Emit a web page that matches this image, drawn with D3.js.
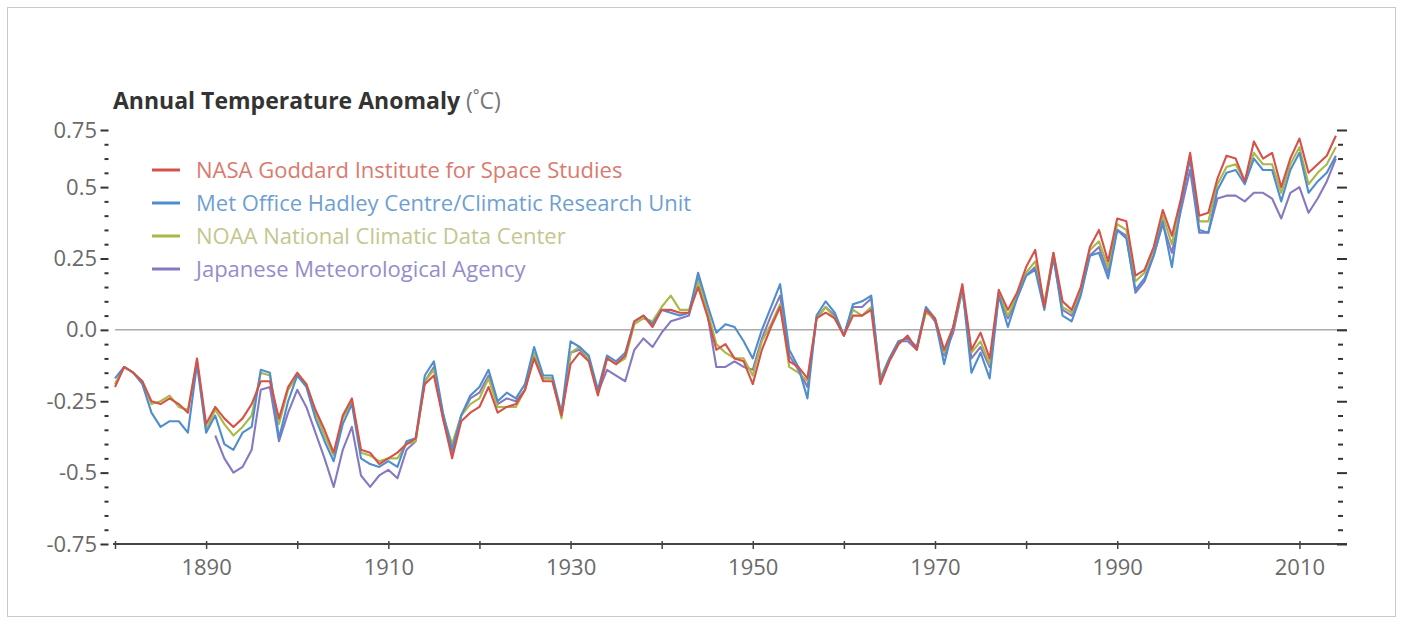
<!DOCTYPE html>
<html>
<head>
    <meta charset="utf-8">
    <title>Annual Temperature Anomaly</title>
    <style type="text/css">
		body{ margin:0; background:#fff; }
		.tick text{ font-family:"Open Sans", sans-serif; font-size:22px; fill:#6a6a6a; }
		.xaxis .tick line{ stroke:#444; stroke-width:1.5; }
		.yaxis .tick line{ stroke:#333; stroke-width:2; }
		.line{ fill:none; stroke-width:2.1; stroke-linejoin:round; }
    </style>
</head>
<body>
    <script src="https://d3js.org/d3.v7.min.js"></script>
	<script>

		// years 1880 - 2014
		var startYear = 1880;

		var nasa = [
			-0.20,-0.13,-0.15,-0.18,-0.25,-0.26,-0.24,-0.26,-0.29,-0.10,
			-0.33,-0.27,-0.31,-0.34,-0.31,-0.26,-0.18,-0.18,-0.31,-0.20,
			-0.15,-0.19,-0.28,-0.35,-0.43,-0.30,-0.24,-0.42,-0.43,-0.47,
			-0.45,-0.43,-0.40,-0.38,-0.19,-0.16,-0.31,-0.45,-0.32,-0.29,
			-0.27,-0.20,-0.29,-0.27,-0.26,-0.21,-0.10,-0.18,-0.18,-0.30,
			-0.12,-0.08,-0.11,-0.23,-0.10,-0.12,-0.09,0.03,0.05,0.01,
			0.07,0.07,0.06,0.06,0.15,0.05,-0.07,-0.05,-0.10,-0.11,
			-0.19,-0.07,0.01,0.08,-0.11,-0.13,-0.17,0.04,0.06,0.04,
			-0.02,0.05,0.05,0.07,-0.19,-0.11,-0.05,-0.02,-0.07,0.07,
			0.04,-0.07,0.01,0.16,-0.07,-0.01,-0.10,0.14,0.07,0.13,
			0.22,0.28,0.08,0.27,0.10,0.07,0.15,0.29,0.35,0.24,
			0.39,0.38,0.19,0.21,0.29,0.42,0.33,0.46,0.62,0.40,
			0.41,0.53,0.61,0.60,0.52,0.66,0.60,0.62,0.50,0.60,
			0.67,0.55,0.58,0.61,0.68];

		var metOffice = [
			-0.17,-0.13,-0.15,-0.19,-0.29,-0.34,-0.32,-0.32,-0.36,-0.12,
			-0.36,-0.30,-0.40,-0.42,-0.36,-0.34,-0.14,-0.15,-0.38,-0.25,
			-0.16,-0.20,-0.31,-0.39,-0.46,-0.33,-0.26,-0.45,-0.47,-0.48,
			-0.46,-0.48,-0.39,-0.38,-0.16,-0.11,-0.29,-0.42,-0.30,-0.23,
			-0.20,-0.14,-0.25,-0.22,-0.24,-0.19,-0.06,-0.16,-0.16,-0.29,
			-0.04,-0.06,-0.09,-0.21,-0.09,-0.11,-0.08,0.03,0.05,0.02,
			0.07,0.06,0.05,0.06,0.20,0.09,-0.01,0.02,0.01,-0.04,
			-0.10,0.00,0.08,0.16,-0.07,-0.13,-0.24,0.05,0.10,0.06,
			-0.02,0.09,0.10,0.12,-0.18,-0.10,-0.04,-0.03,-0.06,0.08,
			0.04,-0.12,0.01,0.15,-0.15,-0.08,-0.17,0.12,0.01,0.11,
			0.19,0.21,0.07,0.26,0.05,0.03,0.12,0.26,0.27,0.18,
			0.35,0.32,0.14,0.18,0.26,0.38,0.22,0.44,0.60,0.35,
			0.34,0.49,0.55,0.56,0.51,0.60,0.56,0.56,0.45,0.56,
			0.62,0.48,0.52,0.55,0.61];

		var noaa = [
			-0.19,-0.13,-0.15,-0.18,-0.26,-0.25,-0.23,-0.27,-0.28,-0.11,
			-0.35,-0.28,-0.33,-0.37,-0.34,-0.30,-0.15,-0.16,-0.33,-0.21,
			-0.16,-0.19,-0.29,-0.37,-0.44,-0.31,-0.25,-0.43,-0.44,-0.46,
			-0.45,-0.45,-0.40,-0.39,-0.18,-0.14,-0.30,-0.40,-0.30,-0.26,
			-0.24,-0.17,-0.27,-0.27,-0.27,-0.21,-0.08,-0.17,-0.17,-0.31,
			-0.08,-0.06,-0.10,-0.22,-0.10,-0.12,-0.10,0.02,0.04,0.03,
			0.08,0.12,0.07,0.07,0.17,0.07,-0.05,-0.08,-0.10,-0.10,
			-0.16,-0.04,0.02,0.09,-0.13,-0.15,-0.18,0.04,0.08,0.04,
			-0.02,0.07,0.05,0.08,-0.17,-0.10,-0.04,-0.03,-0.06,0.06,
			0.04,-0.08,0.01,0.14,-0.08,-0.04,-0.12,0.13,0.05,0.12,
			0.20,0.24,0.09,0.27,0.08,0.06,0.14,0.28,0.31,0.22,
			0.37,0.35,0.17,0.20,0.28,0.40,0.30,0.45,0.61,0.38,
			0.38,0.51,0.57,0.58,0.52,0.62,0.58,0.58,0.48,0.58,
			0.64,0.51,0.55,0.58,0.64];

		// JMA series starts in 1891
		var jma = [
			null,null,null,null,null,null,null,null,null,null,
			null,-0.37,-0.45,-0.50,-0.48,-0.42,-0.21,-0.20,-0.39,-0.29,
			-0.21,-0.27,-0.36,-0.45,-0.55,-0.42,-0.34,-0.51,-0.55,-0.51,
			-0.49,-0.52,-0.42,-0.39,-0.18,-0.13,-0.31,-0.43,-0.30,-0.24,
			-0.22,-0.16,-0.26,-0.24,-0.25,-0.21,-0.09,-0.17,-0.17,-0.30,
			-0.08,-0.07,-0.10,-0.22,-0.14,-0.16,-0.18,-0.07,-0.03,-0.06,
			-0.01,0.03,0.04,0.05,0.18,0.06,-0.13,-0.13,-0.11,-0.13,
			-0.14,-0.03,0.05,0.12,-0.09,-0.14,-0.20,0.04,0.08,0.05,
			-0.02,0.08,0.08,0.11,-0.17,-0.10,-0.04,-0.04,-0.07,0.07,
			0.03,-0.09,-0.01,0.14,-0.10,-0.06,-0.13,0.12,0.04,0.11,
			0.19,0.22,0.09,0.25,0.07,0.05,0.13,0.26,0.29,0.20,
			0.35,0.33,0.13,0.17,0.26,0.37,0.27,0.42,0.56,0.34,
			0.34,0.46,0.47,0.47,0.45,0.48,0.48,0.46,0.39,0.48,
			0.50,0.41,0.46,0.52,0.60];

		var seriesNames  = ["NASA Goddard Institute for Space Studies",
			"Met Office Hadley Centre/Climatic Research Unit",
			"NOAA National Climatic Data Center",
			"Japanese Meteorological Agency"];
		var seriesValues = [nasa, metOffice, noaa, jma];
		var lineColors   = ["#d4524a", "#4f8dcf", "#a9b846", "#8679c2"];
		var textColors   = ["#da7a70", "#6f9fd2", "#c4c68e", "#948dcb"];

		var xTickYears  = d3.range(1880, 2011, 10);
		var xLabelYears = [1890, 1910, 1930, 1950, 1970, 1990, 2010];
		var yTicks      = [-0.75, -0.5, -0.25, 0, 0.25, 0.5, 0.7];
		var yTickLabels = ["-0.75", "-0.5", "-0.25", "0.0", "0.25", "0.5", "0.75"];

		var width = 1403, height = 624;

		var svg = d3.select("body")
			.append("svg")
			.attr("width", width)
			.attr("height", height);

		// light frame round the picture
		svg.append("rect")
			.attr("x", 7.5).attr("y", 7.5)
			.attr("width", width - 15).attr("height", height - 15)
			.attr("fill", "#fff")
			.attr("stroke", "#c9c9c9");

		var x = d3.scaleLinear()
			.domain([1880, 2015])
			.range([115, 1345]);

		var y = d3.scaleLinear()
			.domain([-0.75, 0.7])
			.range([544, 130]);

		// zero line
		svg.append("line")
			.attr("x1", x(1880)).attr("x2", x(2015) + 2)
			.attr("y1", y(0)).attr("y2", y(0))
			.attr("stroke", "#aaa")
			.attr("stroke-width", 1.5);

		// x axis
		var xAxis = svg.append("g")
			.attr("class", "xaxis")
			.attr("transform", "translate(0," + y(-0.75) + ")")
			.call(d3.axisBottom(x)
				.tickValues(xTickYears)
				.tickSize(5)
				.tickSizeOuter(0)
				.tickFormat(function(d){ return xLabelYears.indexOf(d) >= 0 ? d : ""; }));
		xAxis.select(".domain").remove();
		xAxis.selectAll(".tick line").attr("y1", -3);
		xAxis.selectAll(".tick text").attr("y", 15);
		xAxis.append("line")
			.attr("x1", x(1880) - 2).attr("x2", x(2015) + 2)
			.attr("stroke", "#444")
			.attr("stroke-width", 2);

		// minor y ticks every 0.05
		var minor = d3.range(-0.75, 0.7001, 0.05).filter(function(v){
			return yTicks.every(function(t){ return Math.abs(t - v) > 0.001; });
		});

		var leftX = x(1880) - 6.5, rightX = x(2015) + 2;

		var yLeft = svg.append("g")
			.attr("class", "yaxis")
			.attr("transform", "translate(" + leftX + ",0)")
			.call(d3.axisLeft(y)
				.tickValues(yTicks)
				.tickSize(8)
				.tickPadding(3.5)
				.tickFormat(function(d, i){ return yTickLabels[i]; }));
		yLeft.select(".domain").remove();

		var yLeftMinor = svg.append("g")
			.attr("class", "yaxis")
			.attr("transform", "translate(" + leftX + ",0)")
			.call(d3.axisLeft(y).tickValues(minor).tickSize(4).tickFormat(""));
		yLeftMinor.select(".domain").remove();

		var yRight = svg.append("g")
			.attr("class", "yaxis")
			.attr("transform", "translate(" + rightX + ",0)")
			.call(d3.axisRight(y).tickValues(yTicks).tickSize(-10).tickFormat(""));
		yRight.select(".domain").remove();

		var yRightMinor = svg.append("g")
			.attr("class", "yaxis")
			.attr("transform", "translate(" + (rightX - 4) + ",0)")
			.call(d3.axisRight(y).tickValues(minor).tickSize(-5).tickFormat(""));
		yRightMinor.select(".domain").remove();

		// lines, drawn so that NASA ends up on top
		var line = d3.line()
			.defined(function(d){ return d !== null; })
			.x(function(d, i){ return x(startYear + i); })
			.y(function(d){ return y(d); });

		[3, 2, 1, 0].forEach(function(k){
			svg.append("path")
				.datum(seriesValues[k])
				.attr("class", "line")
				.attr("stroke", lineColors[k])
				.attr("d", line);
		});

		// title
		var title = svg.append("text")
			.attr("x", 113)
			.attr("y", 109)
			.style("font-family", "'Open Sans', sans-serif")
			.style("font-size", "23px");
		title.append("tspan")
			.style("font-weight", "bold")
			.attr("fill", "#333")
			.text("Annual Temperature Anomaly ");
		title.append("tspan")
			.attr("fill", "#777")
			.text("(\u02DAC)");

		// legend
		var legend = svg.append("g")
			.attr("transform", "translate(152,170)");

		seriesNames.forEach(function(name, i){
			var row = legend.append("g")
				.attr("transform", "translate(0," + (i * 33) + ")");
			row.append("line")
				.attr("x1", 0).attr("x2", 28)
				.attr("stroke", lineColors[i])
				.attr("stroke-width", 3);
			row.append("text")
				.attr("x", 44)
				.attr("dy", "0.35em")
				.attr("fill", textColors[i])
				.style("font-family", "'Open Sans', sans-serif")
				.style("font-size", "22px")
				.text(name);
		});

    </script>
</body>
</html>
